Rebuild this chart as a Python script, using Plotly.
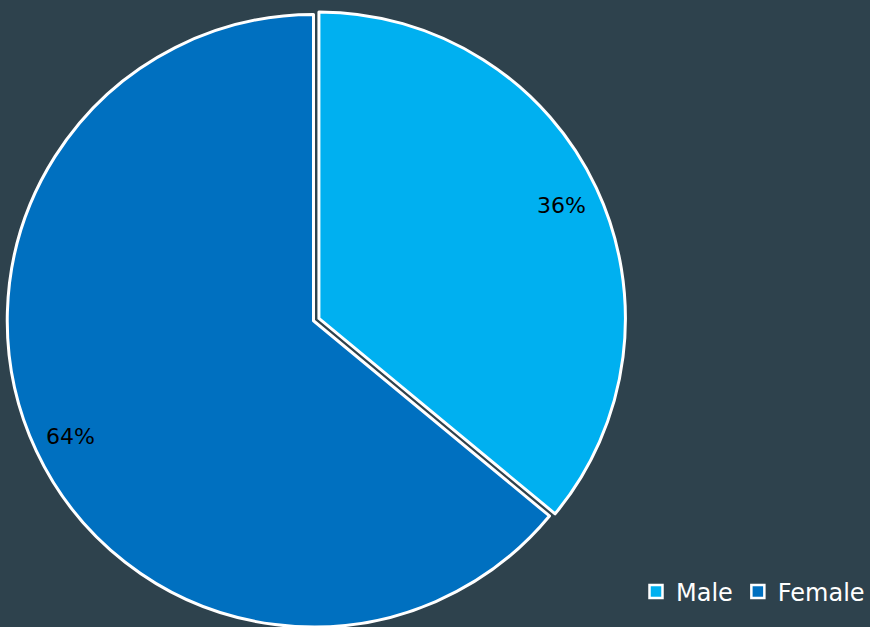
import math
import plotly.graph_objects as go

# Gender split (percent)
labels = ["Male", "Female"]
values = [36, 64]
colors = ["#00B0F0", "#0070C0"]

W, H = 870, 627
BG = "#2E424D"
TRANSPARENT = "rgba(0,0,0,0)"

# pie geometry in pixels
cx, cy, r = 313.5, 321.0, 306.5
pull_px = 6.0          # offset of the exploded Male slice
label_frac = 0.875     # radial position of the percentage labels
font = "DejaVu Sans"

total = sum(values)
fig = go.Figure()
annotations = []

start = 0.0
for i, (lab, val) in enumerate(zip(labels, values)):
    frac = val / total
    mid = (start + frac / 2) * 2 * math.pi  # clockwise from 12 o'clock
    start += frac
    ux, uy = math.sin(mid), -math.cos(mid)  # screen direction (y down)
    shift = pull_px if i == 0 else 0.0
    scx, scy = cx + ux * shift, cy + uy * shift

    slice_colors = [colors[j] if j == i else TRANSPARENT for j in range(len(labels))]
    line_w = [3 if j == i else 0 for j in range(len(labels))]
    fig.add_trace(go.Pie(
        labels=labels, values=values, sort=False, direction="clockwise",
        rotation=0, textinfo="none", showlegend=False, hoverinfo="label+percent",
        marker=dict(colors=slice_colors, line=dict(color="white", width=line_w)),
        domain=dict(x=[(scx - r) / W, (scx + r) / W],
                    y=[max(0, (H - scy - r) / H), min(1, (H - scy + r) / H)]),
    ))

    lx = scx + ux * r * label_frac
    ly = scy + uy * r * label_frac
    annotations.append(dict(
        x=lx / W, y=1 - ly / H, xref="paper", yref="paper",
        text=f"{round(100 * frac)}%", showarrow=False,
        xanchor="center", yanchor="middle", yshift=-1,
        font=dict(family=font, size=22, color="black"),
    ))

# legend entries
for lab, col in zip(labels, colors):
    fig.add_trace(go.Scatter(
        x=[None], y=[None], mode="markers", name=lab,
        marker=dict(symbol="square", size=13, color=col,
                    line=dict(color="white", width=2.5)),
    ))

fig.update_layout(
    width=W, height=H,
    margin=dict(l=0, r=0, t=0, b=0),
    paper_bgcolor=BG, plot_bgcolor=BG,
    xaxis=dict(visible=False), yaxis=dict(visible=False),
    showlegend=True,
    legend=dict(orientation="h", x=1.0, xanchor="right", y=0.02, yanchor="bottom",
                font=dict(family=font, size=24, color="white"),
                bgcolor=TRANSPARENT, itemwidth=30, tracegroupgap=0),
    annotations=annotations,
)

fig.write_html("out.html")
